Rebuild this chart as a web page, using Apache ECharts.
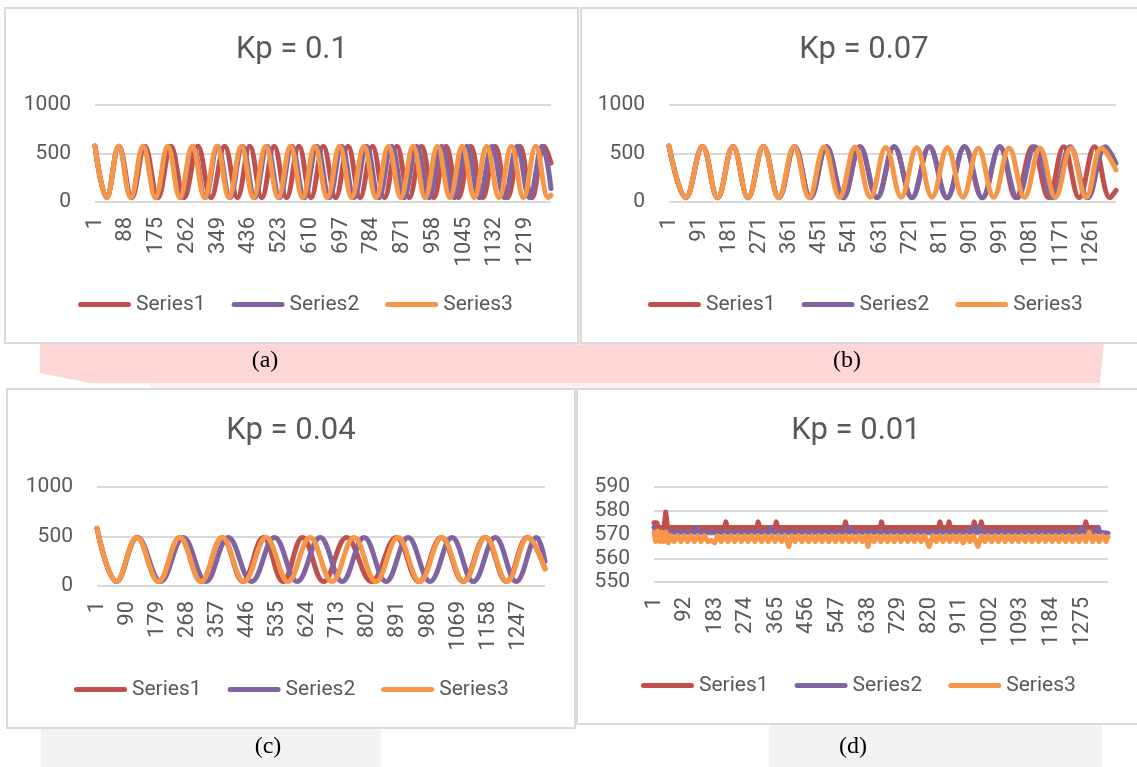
<!DOCTYPE html>
<html><head><meta charset="utf-8">
<script src="https://cdn.jsdelivr.net/npm/echarts@6/dist/echarts.min.js"></script>
<style>html,body{margin:0;padding:0;background:#fff;}#c{width:1137px;height:767px;}</style>
</head><body><div id="c"></div>
<script>
// ---------- data ----------
const seriesNames = ['Series1', 'Series2', 'Series3'];
const titles = ['Kp = 0.1', 'Kp = 0.07', 'Kp = 0.04', 'Kp = 0.01'];
const captions = ['(a)', '(b)', '(c)', '(d)'];

const ticksA = [1, 88, 175, 262, 349, 436, 523, 610, 697, 784, 871, 958, 1045, 1132, 1219];
const ticksB = [1, 91, 181, 271, 361, 451, 541, 631, 721, 811, 901, 991, 1081, 1171, 1261];
const ticksC = [1, 90, 179, 268, 357, 446, 535, 624, 713, 802, 891, 980, 1069, 1158, 1247];
const ticksD = [1, 92, 183, 274, 365, 456, 547, 638, 729, 820, 911, 1002, 1093, 1184, 1275];
const lastIndex = [1290, 1334, 1325, 1351];
const yTicksABC = [0, 500, 1000];
const yTicksD = [550, 560, 570, 580, 590];

// turning points [sample index (0-based), value]
const a1 = [[0,578],[33,45],[68,575],[104,45],[141,575],[178,45],[215,575],[252,45],[291,575],[328,45],[367,575],[403,45],[438,575],[472,45],[507,575],[542,45],[577,575],[611,45],[646,575],[681,45],[716,575],[750,45],[785,575],[819,45],[854,575],[889,45],[924,575],[958,45],[993,575],[1028,45],[1063,575],[1097,45],[1132,575],[1167,45],[1202,575],[1236,45],[1271,575],[1290,400]];
const a2 = [[0,578],[33,45],[67,575],[102,45],[137,575],[172,45],[207,575],[242,45],[277,575],[312,45],[347,575],[382,45],[417,575],[452,45],[487,575],[522,45],[557,575],[592,45],[628,575],[663,45],[698,575],[733,45],[768,575],[803,45],[839,575],[874,45],[910,575],[945,45],[981,575],[1016,45],[1052,575],[1087,45],[1123,575],[1158,45],[1194,575],[1229,45],[1265,575],[1290,140]];
const a3 = [[0,578],[33,45],[67,575],[101,45],[136,575],[171,45],[206,575],[240,45],[275,575],[310,45],[345,575],[379,45],[414,575],[448,45],[483,575],[518,45],[553,575],[587,45],[622,575],[657,45],[692,575],[726,45],[761,575],[795,45],[830,575],[865,45],[900,575],[934,45],[969,575],[1004,45],[1039,575],[1073,45],[1108,575],[1143,45],[1178,575],[1212,45],[1247,575],[1282,45],[1290,70]];

const b1 = [[0,578],[50,45],[100,572],[145,45],[191,572],[236,45],[282,572],[328,45],[375,570],[422,45],[470,570],[520,45],[570,570],[621,45],[672,570],[725,45],[777,570],[830,45],[882,570],[935,45],[987,570],[1035,45],[1085,570],[1133,45],[1178,570],[1224,45],[1270,570],[1316,45],[1334,120]];
const b2 = [[0,578],[50,45],[100,572],[145,45],[191,572],[236,45],[282,572],[328,45],[375,570],[422,45],[470,570],[520,45],[570,570],[621,45],[672,570],[725,45],[777,570],[830,45],[882,570],[935,45],[987,570],[1040,45],[1092,570],[1145,45],[1197,570],[1250,45],[1302,570],[1334,400]];
const b3 = [[0,578],[50,45],[100,572],[145,45],[191,572],[236,45],[282,572],[327,45],[373,570],[418,45],[463,568],[509,48],[555,565],[601,50],[647,562],[693,50],[739,558],[785,50],[831,558],[877,50],[923,555],[969,50],[1015,555],[1061,50],[1107,555],[1153,50],[1199,555],[1245,50],[1291,555],[1334,330]];

const c1 = [[0,582],[58,45],[118,490],[182,45],[245,490],[308,45],[370,490],[432,45],[492,490],[550,45],[608,490],[670,45],[738,490],[812,45],[885,490],[952,45],[1018,490],[1083,45],[1148,490],[1211,45],[1273,490],[1325,175]];
const c2 = [[0,582],[58,45],[120,490],[188,45],[255,490],[322,45],[388,490],[457,45],[525,490],[592,45],[660,490],[725,45],[790,490],[855,45],[920,490],[985,45],[1050,490],[1113,45],[1178,490],[1240,45],[1300,490],[1325,250]];
const c3 = [[0,582],[58,45],[118,490],[182,45],[245,490],[308,45],[370,490],[435,45],[500,490],[565,45],[630,490],[695,45],[760,490],[825,45],[890,490],[955,45],[1020,490],[1085,45],[1150,490],[1213,45],[1275,490],[1325,170]];

const d1 = [[0,575],[8,575],[14,573],[30,573],[35,579.5],[40,573],[210,573],[214,575.3],[218,573],[306,573],[310,575.3],[314,573],[360,573],[364,575.3],[368,573],[566,573],[570,575.3],[574,573],[673,573],[677,575.3],[681,573],[847,573],[851,575.3],[855,573],[874,573],[878,575.3],[882,573],[949,573],[953,575.3],[957,573],[970,573],[974,575.3],[978,573],[1281,573],[1285,575.3],[1289,573],[1322,573]];
const d2 = [[0,573],[6,571],[124,571],[128,573],[132,571],[344,571],[348,573],[352,571],[574,571],[578,573],[582,571],[943,571],[947,573],[951,571],[964,571],[968,573],[972,571],[1270,571],[1274,573],[1278,571],[1318,571],[1322,573],[1326,571],[1351,570.5]];
const d3 = [[0,571],[5,567],[11,571.5],[17,567],[23,571],[29,567],[36,571],[43,566.5],[50,569.5],[60,567],[70,569.5],[80,567],[90,569.5],[100,567],[110,569.5],[120,567],[130,569.5],[140,567],[150,569.5],[160,567],[170,567.5],[180,566.5],[190,569.5],[200,567],[210,569.5],[220,567],[230,569.5],[240,567],[250,569.5],[260,567],[270,569.5],[280,567],[290,569.5],[300,567],[310,569.5],[320,567],[330,569.5],[340,567],[350,569.5],[360,567],[370,569.5],[380,567],[390,569.5],[401,565],[410,569.5],[420,567],[430,569.5],[440,567],[450,569.5],[460,567],[470,569.5],[480,567],[490,569.5],[500,567],[510,569.5],[520,567],[530,569.5],[540,567],[550,569.5],[560,567],[570,569.5],[580,567],[590,569.5],[600,567],[610,569.5],[620,567],[630,569.5],[637,565],[645,569.5],[655,567],[665,569.5],[675,567],[685,569.5],[695,567],[705,569.5],[715,567],[725,569.5],[735,567],[745,569.5],[755,567],[765,569.5],[775,567],[785,569.5],[795,567],[805,569.5],[819,565],[830,569.5],[840,567],[850,569.5],[860,567],[870,569.5],[880,567],[890,569.5],[900,567],[910,569.5],[920,566.5],[930,569.5],[940,567],[950,569.5],[964,565],[975,569.5],[985,567],[995,569.5],[1005,567],[1015,569.5],[1025,567],[1035,569.5],[1045,567],[1055,569.5],[1065,567],[1075,569.5],[1085,567],[1095,569.5],[1105,567],[1115,569.5],[1125,567],[1135,569.5],[1145,567],[1155,569.5],[1165,567],[1175,569.5],[1185,567],[1195,569.5],[1205,567],[1215,569.5],[1225,567],[1235,569.5],[1245,567],[1255,569.5],[1265,567],[1275,569.5],[1285,567],[1295,571],[1305,567],[1315,569.5],[1325,567],[1335,569.5],[1345,567],[1351,569]];

// ---------- layout / style ----------
const colors = ['#C0504D', '#8064A2', '#F79646'];
const FONT = 'Roboto';
const TXT = '#595959';
const gridBoxes = [
  {left: 95, top: 105, width: 456, height: 97},
  {left: 669, top: 105, width: 447, height: 97},
  {left: 97, top: 487, width: 448, height: 99},
  {left: 654, top: 487, width: 454, height: 95}
];
const titlePos = [[292, 35], [864, 35], [291, 416], [856, 416]];
const captionPos = [[265, 349], [847, 349], [268, 735], [853, 735]];
const legendPos = [[78, 294], [648, 294], [74, 679], [641, 675]];
const panels = [[5, 8, 573, 335], [581, 8, 560, 335], [7, 389, 568, 339], [577, 389, 565, 335]];

const tickSets = [ticksA, ticksB, ticksC, ticksD];
const dataSets = [[a1, a2, a3], [b1, b2, b3], [c1, c2, c3], [d1, d2, d3]];

const xAxes = tickSets.map((tk, i) => ({
  type: 'value', gridIndex: i, min: 0, max: lastIndex[i], interval: tk[1] - tk[0],
  axisLine: {show: false}, axisTick: {show: false}, splitLine: {show: false},
  axisLabel: {
    rotate: 90, margin: 15, fontFamily: FONT, fontSize: 22, color: TXT,
    showMinLabel: true, showMaxLabel: false,
    formatter: v => (tk.indexOf(Math.round(v) + 1) >= 0 ? String(Math.round(v) + 1) : '')
  }
}));

const yAxes = [0, 1, 2, 3].map(i => {
  const yt = i < 3 ? yTicksABC : yTicksD;
  return {
    type: 'value', gridIndex: i, min: yt[0], max: yt[yt.length - 1], interval: yt[1] - yt[0],
    axisLine: {show: false}, axisTick: {show: false},
    splitLine: {show: true, lineStyle: {color: '#D9D9D9', width: 2}},
    axisLabel: {margin: 24, fontFamily: FONT, fontSize: 21, color: TXT, formatter: v => String(v)}
  };
});

const series = [];
dataSets.forEach((set, gi) => {
  set.forEach((d, si) => {
    series.push({
      type: 'line', name: seriesNames[si], xAxisIndex: gi, yAxisIndex: gi,
      data: d, showSymbol: false, symbol: 'none',
      smooth: gi < 3 ? 0.4 : false,
      color: colors[si],
      lineStyle: {width: 5, color: colors[si], cap: 'round', join: 'round'},
      emphasis: {disabled: true}, z: 2 + si
    });
  });
});

const pill = 'path://M2.5,0 L50.5,0 A2.5,2.5 0 0 1 50.5,5 L2.5,5 A2.5,2.5 0 0 1 2.5,0 Z';
const legends = legendPos.map(p => ({
  left: p[0], top: p[1], padding: 0, itemWidth: 53, itemHeight: 5, itemGap: 26,
  icon: pill, data: seriesNames, selectedMode: false,
  textStyle: {fontFamily: FONT, fontSize: 21, color: TXT}
}));

const titleComps = titles.map((t, i) => ({
  text: t, left: titlePos[i][0], top: titlePos[i][1], textAlign: 'center', padding: 0,
  textStyle: {fontFamily: FONT, fontSize: 31, fontWeight: 'normal', color: TXT}
})).concat(captions.map((t, i) => ({
  text: t, left: captionPos[i][0], top: captionPos[i][1], textAlign: 'center', padding: 0,
  textStyle: {fontFamily: 'Liberation Serif', fontSize: 24, fontWeight: 'normal', color: '#000'}
})));

const graphics = [
  {type: 'polygon', shape: {points: [[40, 340], [1104, 340], [1100, 383], [90, 383], [40, 373]]}, style: {fill: '#FFD6D6'}, z: -20, silent: true},
  {type: 'rect', shape: {x: 150, y: 383, width: 950, height: 6}, style: {fill: '#FFF1F1'}, z: -20, silent: true},
  {type: 'rect', shape: {x: 577, y: 160, width: 5, height: 185}, style: {fill: '#FDE6E6'}, z: -20, silent: true},
  {type: 'rect', shape: {x: 41, y: 728, width: 340, height: 40}, style: {fill: '#F3F3F3'}, z: -20, silent: true},
  {type: 'rect', shape: {x: 769, y: 724, width: 333, height: 44}, style: {fill: '#F3F3F3'}, z: -20, silent: true}
].concat(panels.map(p => ({
  type: 'rect', shape: {x: p[0], y: p[1], width: p[2], height: p[3]},
  style: {fill: '#FFFFFF', stroke: '#D9D9D9', lineWidth: 2}, z: -10, silent: true
})));

const chart = echarts.init(document.getElementById('c'), null, {renderer: 'canvas'});
chart.setOption({
  animation: false,
  backgroundColor: '#FFFFFF',
  graphic: graphics,
  title: titleComps,
  legend: legends,
  grid: gridBoxes,
  xAxis: xAxes,
  yAxis: yAxes,
  series: series
});
</script></body></html>
